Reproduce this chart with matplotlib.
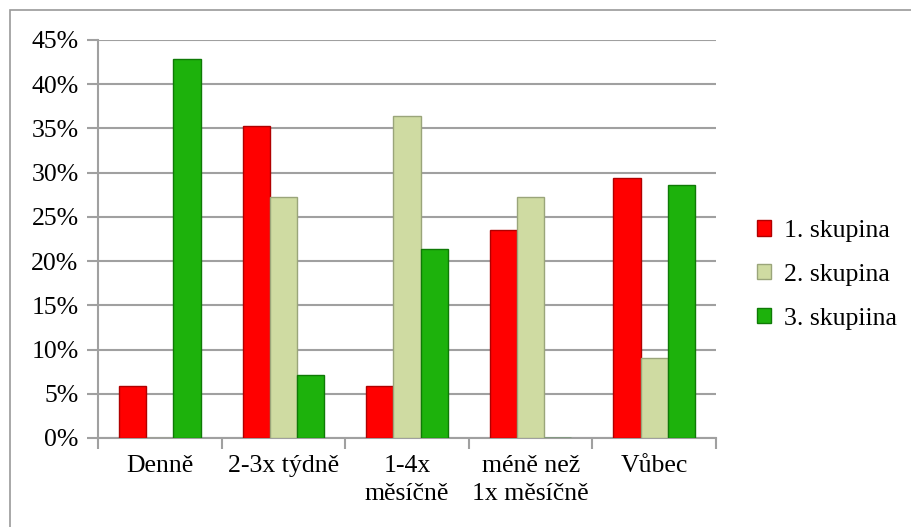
import numpy as np
import matplotlib
matplotlib.use("Agg")
import matplotlib.pyplot as plt
from matplotlib.patches import Rectangle

# data
kategorie = ["Denně", "2-3x týdně", "1-4x\nměsíčně", "méně než\n1x měsíčně", "Vůbec"]
skupina1 = [5.9, 35.3, 5.9, 23.5, 29.4]
skupina2 = [0.0, 27.3, 36.4, 27.3, 9.1]
skupina3 = [42.9, 7.1, 21.4, 0.0, 28.6]
nazvy = ["1. skupina", "2. skupina", "3. skupiina"]

barvy = ["#ff0000", "#cfdba2", "#1db20c"]
okraje = ["#b00000", "#9aa57a", "#0f7a06"]

plt.rcParams['font.family'] = ['Liberation Serif', 'DejaVu Serif']

fig = plt.figure(figsize=(9.11, 5.27), dpi=100)
ax = fig.add_axes([98/911, 1 - 438/527, (716-98)/911, (438-40)/527])

# outer chart frame
fig.patches.append(Rectangle((10/911, -0.1), 1.2, 1 - 10/527 + 0.1, transform=fig.transFigure,
                             fill=False, edgecolor="#9a9a9a", linewidth=1.2))

x = np.arange(len(kategorie))
w = 0.22
for i, data in enumerate([skupina1, skupina2, skupina3]):
    ax.bar(x + (i - 1) * w, data, width=w, color=barvy[i], edgecolor=okraje[i],
           linewidth=1.0, label=nazvy[i], zorder=3)

ax.set_xlim(-0.5, len(kategorie) - 0.5)
ax.set_ylim(0, 45)
ax.set_yticks(np.arange(0, 46, 5))
ax.set_yticklabels([f"{v}%" for v in range(0, 46, 5)], fontsize=18.5)
ax.yaxis.grid(True, color="#a0a0a0", linewidth=1.5, zorder=0)

ax.set_xticks(x)
ax.set_xticklabels(kategorie, fontsize=18.5, linespacing=1.4)
ax.set_xticks(np.arange(-0.5, len(kategorie), 1), minor=True)
ax.tick_params(axis="x", which="major", length=0, pad=12)
ax.tick_params(axis="x", which="minor", length=8, color="#a0a0a0", width=1.5, direction="out")
ax.tick_params(axis="y", length=8, color="#a0a0a0", width=1.5, direction="out", pad=6)

for s in ["top", "right"]:
    ax.spines[s].set_visible(False)
for s in ["left", "bottom"]:
    ax.spines[s].set_color("#a0a0a0")
    ax.spines[s].set_linewidth(1.5)

ax.legend(loc="center left", bbox_to_anchor=(1.029, 0.41), frameon=False, fontsize=18.5,
          handlelength=0.55, handleheight=0.55, handletextpad=0.5, labelspacing=0.85)

fig.savefig("out.png", dpi=100)
